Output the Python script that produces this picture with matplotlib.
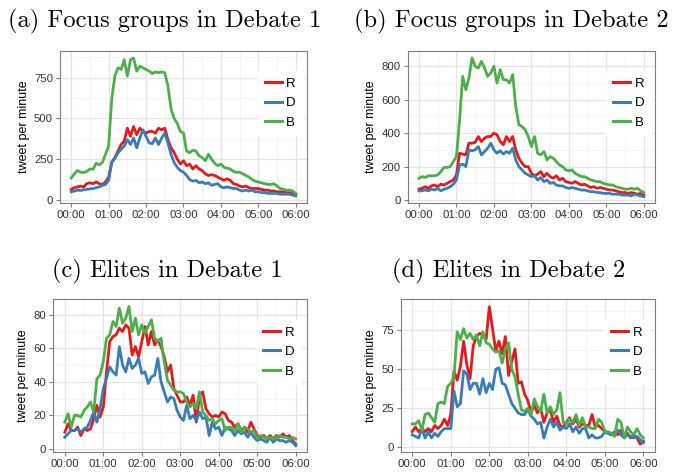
import matplotlib
matplotlib.use('Agg')
import matplotlib.pyplot as plt
from matplotlib.ticker import MultipleLocator

# time axis: minutes since start, one sample every 5 minutes
minutes = list(range(0, 361, 5))
hour_ticks = [0, 60, 120, 180, 240, 300, 360]
hour_labels = ["%02d:00" % (m // 60) for m in hour_ticks]
series_names = ["R", "D", "B"]

# (a) Focus groups in Debate 1
fg1_R = [65, 75, 80, 85, 80, 100, 105, 100, 110, 100, 95, 110,
         140, 230, 260, 300, 340, 360, 440, 390, 450, 400, 440, 420,
         410, 420, 420, 410, 440, 430, 440, 370, 320, 290, 250, 220,
         240, 210, 220, 190, 210, 190, 180, 160, 150, 155, 150, 140,
         130, 120, 130, 120, 100, 95, 85, 80, 85, 75, 70, 70,
         70, 65, 60, 60, 55, 55, 50, 50, 50, 45, 45, 45, 35]
fg1_D = [50, 55, 60, 58, 62, 65, 68, 70, 75, 80, 90, 95,
         120, 230, 255, 290, 310, 330, 370, 340, 380, 320, 380, 430,
         390, 350, 345, 380, 340, 380, 410, 350, 280, 230, 200, 180,
         170, 150, 125, 115, 120, 105, 110, 100, 105, 90, 95, 100,
         80, 75, 80, 75, 70, 70, 60, 55, 60, 55, 60, 50,
         50, 45, 45, 40, 40, 40, 40, 35, 35, 35, 35, 30, 25]
fg1_B = [135, 160, 180, 170, 168, 175, 190, 188, 225, 215, 230, 280,
         330, 620, 760, 810, 800, 860, 760, 860, 870, 790, 820, 810,
         800, 790, 775, 785, 780, 785, 780, 700, 560, 500, 470, 420,
         410, 300, 290, 305, 300, 270, 260, 240, 280, 250, 225, 210,
         220, 200, 195, 190, 175, 170, 170, 160, 150, 140, 125, 115,
         110, 105, 100, 95, 95, 100, 85, 70, 65, 60, 60, 55, 40]

# (b) Focus groups in Debate 2
fg2_R = [65, 70, 80, 70, 85, 90, 80, 95, 90, 100, 110, 120,
         150, 280, 275, 270, 340, 340, 345, 380, 350, 370, 380, 380,
         400, 390, 350, 330, 380, 350, 380, 300, 250, 220, 200, 200,
         160, 145, 155, 170, 140, 160, 140, 130, 145, 120, 130, 110,
         105, 100, 110, 100, 90, 95, 85, 75, 80, 70, 75, 70,
         65, 60, 60, 55, 50, 45, 45, 40, 45, 40, 35, 40, 30]
fg2_D = [55, 55, 60, 55, 65, 60, 70, 55, 65, 70, 80, 95,
         120, 210, 215, 200, 300, 295, 300, 320, 270, 290, 310, 340,
         300, 280, 295, 275, 290, 280, 310, 240, 200, 180, 160, 150,
         140, 145, 120, 135, 110, 120, 100, 105, 90, 85, 85, 75,
         70, 75, 70, 65, 60, 60, 55, 50, 50, 45, 45, 40,
         40, 40, 35, 35, 35, 30, 30, 30, 25, 35, 30, 25, 20]
fg2_B = [130, 140, 135, 145, 145, 145, 150, 170, 195, 195, 200, 230,
         260, 480, 740, 660, 730, 850, 800, 790, 830, 790, 740, 760,
         800, 700, 780, 720, 720, 700, 750, 560, 450, 440, 420, 380,
         320, 380, 280, 270, 290, 240, 260, 250, 230, 210, 200, 180,
         175, 180, 160, 150, 140, 140, 130, 120, 115, 110, 110, 100,
         95, 90, 90, 80, 75, 70, 65, 65, 70, 65, 70, 55, 45]

# (c) Elites in Debate 1
el1_R = [10, 15, 11, 11, 13, 8, 12, 11, 12, 18, 26, 19,
         25, 46, 64, 67, 68, 72, 70, 74, 72, 56, 61, 55,
         64, 73, 62, 70, 62, 65, 61, 55, 46, 50, 36, 32,
         28, 28, 31, 26, 32, 16, 32, 34, 24, 21, 19, 20,
         19, 22, 21, 17, 16, 13, 15, 11, 13, 10, 16, 12,
         8, 7, 8, 6, 8, 6, 8, 7, 9, 7, 8, 5, 3]
el1_D = [7, 9, 11, 11, 12, 10, 12, 13, 17, 22, 16, 24,
         36, 42, 49, 46, 44, 61, 50, 46, 54, 48, 50, 54,
         45, 46, 39, 43, 44, 54, 40, 34, 28, 31, 30, 23,
         19, 17, 26, 18, 20, 17, 22, 18, 19, 8, 16, 12,
         13, 8, 13, 12, 11, 8, 11, 9, 10, 7, 10, 7,
         5, 6, 5, 4, 7, 4, 6, 5, 5, 4, 5, 4, 2]
el1_B = [16, 21, 13, 20, 20, 19, 23, 25, 28, 22, 42, 44,
         52, 66, 68, 76, 73, 84, 75, 78, 85, 70, 78, 68,
         74, 69, 73, 77, 66, 64, 66, 52, 41, 38, 35, 34,
         34, 33, 28, 25, 27, 24, 34, 22, 20, 17, 18, 15,
         17, 18, 11, 13, 13, 10, 15, 10, 13, 12, 10, 11,
         6, 8, 7, 6, 7, 6, 7, 8, 7, 7, 6, 7, 6]

# (d) Elites in Debate 2
el2_R = [10, 13, 10, 12, 10, 12, 10, 14, 12, 14, 18, 14,
         21, 49, 43, 52, 68, 53, 44, 65, 71, 73, 72, 69,
         90, 76, 62, 68, 60, 71, 46, 55, 63, 41, 42, 34,
         30, 22, 27, 22, 25, 16, 22, 24, 16, 20, 14, 13,
         16, 19, 15, 18, 13, 15, 14, 14, 21, 13, 14, 12,
         10, 9, 8, 10, 8, 11, 7, 9, 6, 8, 6, 2, 4]
el2_D = [8, 7, 6, 12, 6, 10, 6, 9, 7, 10, 12, 12,
         12, 36, 26, 28, 49, 47, 37, 41, 41, 34, 44, 35,
         41, 37, 50, 51, 41, 40, 34, 28, 25, 22, 21, 21,
         24, 20, 18, 15, 16, 6, 13, 18, 13, 16, 11, 13,
         12, 15, 10, 13, 9, 12, 12, 6, 8, 6, 6, 7,
         10, 9, 8, 9, 11, 8, 6, 8, 7, 6, 7, 5, 3]
el2_B = [15, 15, 17, 11, 21, 22, 19, 16, 28, 29, 28, 39,
         41, 45, 74, 69, 76, 70, 73, 69, 72, 65, 74, 67,
         66, 63, 61, 62, 54, 63, 67, 50, 45, 34, 24, 23,
         25, 21, 31, 26, 23, 34, 22, 26, 21, 24, 35, 16,
         15, 18, 16, 21, 14, 19, 13, 13, 12, 12, 18, 16,
         10, 10, 9, 7, 18, 16, 6, 13, 10, 8, 12, 8, 6]

colors = ["#E41A1C", "#377EB8", "#4DAF4A"]

plt.rcParams['font.family'] = ['Liberation Sans', 'DejaVu Sans']

fig = plt.figure(figsize=(6.84, 4.72), dpi=100)


def draw_panel(rect, series, ylim, ystep):
    ax = fig.add_axes(rect)
    for vals, name, col in zip(series, series_names, colors):
        ax.plot(minutes, vals, color=col, lw=2.0, label=name, solid_joinstyle='round')
    ax.set_xlim(-18, 378)
    ax.set_ylim(*ylim)
    ax.set_xticks(hour_ticks)
    ax.set_xticklabels(hour_labels)
    ax.xaxis.set_minor_locator(MultipleLocator(30))
    ax.yaxis.set_major_locator(MultipleLocator(ystep))
    ax.yaxis.set_minor_locator(MultipleLocator(ystep / 2))
    # сетка как в ggplot
    ax.grid(which='major', color='#E3E3E3', lw=0.9)
    ax.grid(which='minor', color='#F2F2F2', lw=0.6)
    ax.set_axisbelow(True)
    for sp in ax.spines.values():
        sp.set_color('#7F7F7F')
        sp.set_linewidth(0.8)
    ax.tick_params(which='major', length=3, width=0.8, color='#7F7F7F',
                   labelsize=8.2, labelcolor='#333333', pad=2)
    ax.tick_params(which='minor', length=0)
    ax.set_ylabel("tweet per minute", fontsize=9, labelpad=3)
    leg = ax.legend(loc='center left', bbox_to_anchor=(0.775, 0.655), fontsize=9.5,
                    frameon=True, fancybox=False, edgecolor='white', framealpha=1,
                    handlelength=1.3, handletextpad=0.35, labelspacing=0.55,
                    borderpad=0.5)
    for line in leg.get_lines():
        line.set_linewidth(2.2)
    return ax


draw_panel([0.0877, 0.5705, 0.3611, 0.3220], [fg1_R, fg1_D, fg1_B], (-17, 915), 250)
draw_panel([0.5961, 0.5705, 0.3616, 0.3220], [fg2_R, fg2_D, fg2_B], (-16, 893), 200)
draw_panel([0.0779, 0.0417, 0.3713, 0.3248], [el1_R, el1_D, el1_B], (-2, 89.4), 20)
draw_panel([0.5858, 0.0417, 0.3718, 0.3248], [el2_R, el2_D, el2_B], (-3.2, 95), 25)

# заголовки панелей (шрифт как в LaTeX)
titles = ["(a) Focus groups in Debate 1", "(b) Focus groups in Debate 2",
          "(c) Elites in Debate 1", "(d) Elites in Debate 2"]
title_pos = [(165, 27), (511, 27), (167, 277), (509, 277)]
for txt, (px, py) in zip(titles, title_pos):
    fig.text(px / 684, 1 - py / 472, txt, family='cmr10', fontsize=17.6,
             ha='center', va='baseline')

fig.savefig("out.png", dpi=100)
